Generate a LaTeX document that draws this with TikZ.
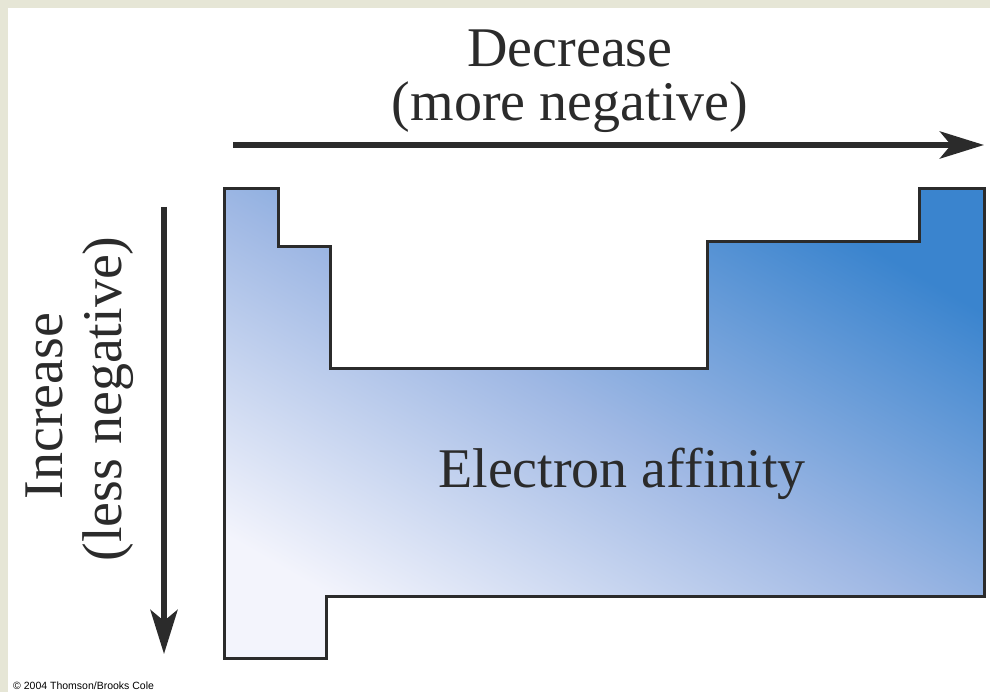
\documentclass[tikz,border=0pt]{standalone}
\usepackage{fontspec}
\setmainfont{Liberation Serif}
\newfontfamily\copyfont{Liberation Sans}
\usetikzlibrary{arrows.meta}
\definecolor{ink}{HTML}{2B2B2B}
\definecolor{marble}{HTML}{E6E6D6}
\definecolor{lightblue}{HTML}{F3F4FC}
\definecolor{midblue}{HTML}{9FB8E4}
\definecolor{deepblue}{HTML}{3A84CE}
\tikzset{
  bigtext/.style={font=\fontsize{56}{62}\selectfont, text=ink, inner sep=0pt},
  bigarrow/.style={draw=ink, line width=6pt, -{Stealth[length=44pt, width=27pt, inset=11pt]}},
  outline/.style={draw=ink, line width=3pt, line join=miter},
}
\begin{document}
\begin{tikzpicture}[x=1pt,y=-1pt]
\useasboundingbox (0,0) rectangle (990,692);
\fill[marble] (0,0) rectangle (990,692);
\fill[white] (8,8) rectangle (990,692);
% table shape
\shade[left color=lightblue, right color=deepblue, middle color=midblue, shading angle=150]
  (224,189) -- (278,189) -- (278,247) -- (330,247) -- (330,368) -- (707,368) -- (707,242)
  -- (919,242) -- (919,189) -- (984,189) -- (984,596) -- (326,596) -- (326,658) -- (224,658) -- cycle;
\draw[outline]
  (224,189) -- (278,189) -- (278,247) -- (330,247) -- (330,368) -- (707,368) -- (707,242)
  -- (919,242) -- (919,189) -- (984,189) -- (984,596) -- (326,596) -- (326,658) -- (224,658) -- cycle;
% labels
\node[bigtext, anchor=base] (dec) at (570,67) {Decrease};
\node[bigtext, anchor=base] (more) at (570,121) {(more negative)};
\node[bigtext, anchor=base, rotate=90] (inc) at (62,406) {Increase};
\node[bigtext, anchor=base, rotate=90] (less) at (121,399) {(less negative)};
\node[bigtext, anchor=base] (ea) at (622,487) {Electron affinity};
\node[anchor=base west, inner sep=0pt, font=\copyfont\fontsize{10.5}{12}\selectfont, text=black] (copy) at (13,689) {© 2004 Thomson/Brooks Cole};
% arrows
\coordinate (hs) at (233,145);
\coordinate (he) at (984,145);
\coordinate (vs) at (164,207);
\coordinate (ve) at (164,654);
\draw[bigarrow] (hs) -- (he);
\draw[bigarrow] (vs) -- (ve);
\end{tikzpicture}
\end{document}
